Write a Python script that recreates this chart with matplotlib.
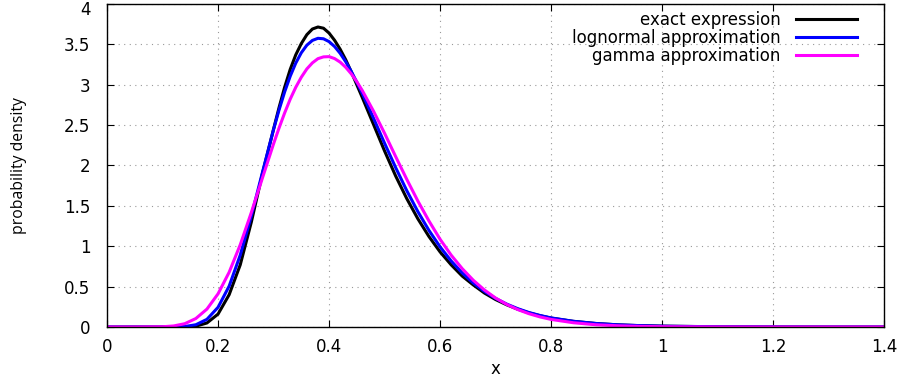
import matplotlib
matplotlib.use("Agg")
import matplotlib.pyplot as plt
import matplotlib.transforms as mtransforms

# values
x = [0.0, 0.05, 0.10, 0.12, 0.14, 0.16, 0.18, 0.20, 0.22, 0.24, 0.26, 0.28,
     0.30, 0.31, 0.32, 0.33, 0.34, 0.35, 0.36, 0.37, 0.38, 0.39, 0.40, 0.41,
     0.42, 0.43, 0.44, 0.45, 0.46, 0.48, 0.50, 0.52,
     0.54, 0.56, 0.58, 0.60, 0.62, 0.64, 0.66, 0.68, 0.70, 0.72, 0.74, 0.76,
     0.78, 0.80, 0.84, 0.88, 0.92, 0.96, 1.00, 1.10, 1.20, 1.30, 1.40]

exact = [0.0, 0.0, 0.0, 0.0, 0.001, 0.01, 0.05, 0.16, 0.40, 0.77, 1.30, 1.90,
         2.45, 2.72, 2.97, 3.19, 3.37, 3.51, 3.62, 3.69, 3.715, 3.70, 3.64, 3.55,
         3.44, 3.31, 3.16, 3.00, 2.84, 2.51, 2.18, 1.87,
         1.59, 1.34, 1.12, 0.93, 0.77, 0.63, 0.52, 0.42, 0.34, 0.275, 0.22, 0.175,
         0.14, 0.11, 0.07, 0.044, 0.027, 0.017, 0.011, 0.003, 0.001, 0.0, 0.0]

lognormal = [0.0, 0.0, 0.0, 0.001, 0.006, 0.028, 0.095, 0.244, 0.506, 0.891, 1.376, 1.915,
             2.446, 2.690, 2.912, 3.105, 3.268, 3.396, 3.490, 3.549, 3.575, 3.569, 3.534, 3.473,
             3.389, 3.285, 3.165, 3.032, 2.890, 2.587, 2.276, 1.974,
             1.689, 1.429, 1.196, 0.993, 0.818, 0.669, 0.544, 0.440, 0.354, 0.284, 0.227, 0.180,
             0.143, 0.113, 0.071, 0.044, 0.027, 0.017, 0.010, 0.003, 0.001, 0.0, 0.0]

gamma = [0.0, 0.0, 0.003, 0.013, 0.041, 0.105, 0.222, 0.411, 0.678, 1.019, 1.419, 1.846,
         2.268, 2.466, 2.651, 2.821, 2.968, 3.093, 3.196, 3.271, 3.323, 3.345, 3.348, 3.324,
         3.280, 3.216, 3.135, 3.038, 2.927, 2.674, 2.399, 2.110,
         1.829, 1.560, 1.313, 1.087, 0.890, 0.722, 0.578, 0.458, 0.359, 0.280, 0.216, 0.165,
         0.125, 0.094, 0.053, 0.028, 0.015, 0.008, 0.004, 0.001, 0.0, 0.0, 0.0]

xticks = [0, 0.2, 0.4, 0.6, 0.8, 1, 1.2, 1.4]
xlabels = ["0", "0.2", "0.4", "0.6", "0.8", "1", "1.2", "1.4"]
yticks = [0, 0.5, 1, 1.5, 2, 2.5, 3, 3.5, 4]
ylabels = ["0", "0.5", "1", "1.5", "2", "2.5", "3", "3.5", "4"]

fig = plt.figure(figsize=(9.04, 3.83), dpi=100)
ax = fig.add_axes([0.1184, 0.1462, 0.8596, 0.8434])

ax.plot(x, exact, color="black", lw=2.2, label="exact expression")
ax.plot(x, lognormal, color="#0000ff", lw=2.2, label="lognormal approximation")
ax.plot(x, gamma, color="#ff00ff", lw=2.2, label="gamma approximation")

ax.set_xlim(0, 1.4)
ax.set_ylim(0, 4)
ax.set_xticks(xticks)
ax.set_xticklabels(xlabels)
ax.set_yticks(yticks)
ax.set_yticklabels(ylabels)
ax.tick_params(direction="in", length=5, top=True, right=True, labelsize=12)
ax.tick_params(axis="x", pad=8)
ax.tick_params(axis="y", pad=12)
ax.grid(True, linestyle=(0, (1, 4)), color="#999999", lw=0.8)
for s in ax.spines.values():
    s.set_linewidth(1.0)

# top label sits right at the figure edge, nudge it down a little
top_lab = ax.get_yticklabels()[-1]
top_lab.set_transform(top_lab.get_transform() +
                      mtransforms.ScaledTranslation(0, -4 / 100, fig.dpi_scale_trans))

ax.set_xlabel("x", fontsize=12, labelpad=3)
ax.set_ylabel("probability density", fontsize=11.3,
              family=["Open Sans", "DejaVu Sans"])
ax.yaxis.set_label_coords(-0.103, 0.5)

ax.legend(loc="upper right", bbox_to_anchor=(0.974, 1.0), frameon=False,
          markerfirst=False, fontsize=12, handlelength=3.7, handletextpad=0.9,
          labelspacing=0.0, borderaxespad=0.0)

fig.savefig("out.png", dpi=100)
